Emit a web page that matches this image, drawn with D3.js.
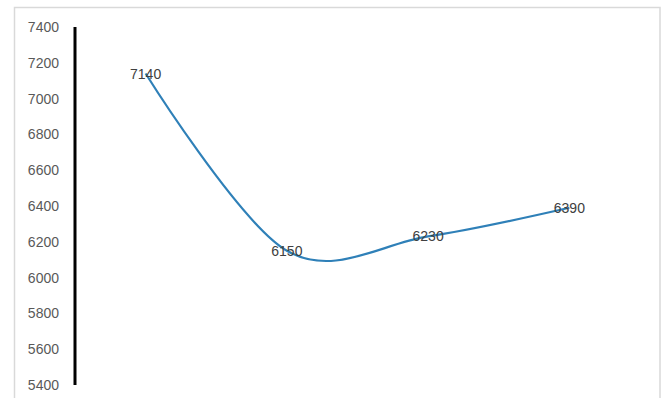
<!DOCTYPE html>
<html>
<head>
<meta charset="utf-8">
<script src="https://cdn.jsdelivr.net/npm/d3@7"></script>
<style>
  html, body { margin: 0; padding: 0; background: #ffffff; }
  svg { display: block; }
</style>
</head>
<body>
<script>
// Series: four points joined by a smoothed line, each labelled with its value
const categories = ["A", "B", "C", "D"];
const values = [7140, 6150, 6230, 6390];
const yTicks = [5400, 5600, 5800, 6000, 6200, 6400, 6600, 6800, 7000, 7200, 7400];

const W = 663, H = 398;
const svg = d3.select("body").append("svg").attr("width", W).attr("height", H);

// Chart frame
svg.append("rect")
  .attr("x", 14.5).attr("y", 7.5)
  .attr("width", 645.5).attr("height", 400)
  .attr("fill", "#ffffff")
  .attr("stroke", "#d9d9d9").attr("stroke-width", 1.5);

const x = d3.scalePoint().domain(categories).range([75, 640]).padding(0.5);
const y = d3.scaleLinear().domain([5400, 7400]).range([385, 27]);

// Value axis: tick labels only, with a heavy vertical rule
const yAxis = svg.append("g")
  .attr("transform", "translate(75,0)")
  .call(d3.axisLeft(y).tickValues(yTicks).tickSize(0).tickPadding(16).tickFormat(d3.format("d")));
yAxis.select(".domain").remove();
yAxis.selectAll("text")
  .attr("fill", "#595959")
  .style("font-family", "'Liberation Sans', Arial, sans-serif")
  .style("font-size", "14px");

svg.append("line")
  .attr("x1", 75).attr("x2", 75)
  .attr("y1", y(7400)).attr("y2", y(5400))
  .attr("stroke", "#000000").attr("stroke-width", 3);

// Smoothed series line
const line = d3.line()
  .x((d, i) => x(categories[i]))
  .y(d => y(d))
  .curve(d3.curveCardinal.tension(0));

svg.append("path")
  .datum(values)
  .attr("d", line)
  .attr("fill", "none")
  .attr("stroke", "#2f80b8")
  .attr("stroke-width", 2.2);

// Value labels centred on each point
svg.selectAll("text.val")
  .data(values)
  .enter().append("text")
  .attr("class", "val")
  .attr("x", (d, i) => x(categories[i]))
  .attr("y", d => y(d))
  .attr("dy", "0.36em")
  .attr("text-anchor", "middle")
  .attr("fill", "#404040")
  .style("font-family", "'Liberation Sans', Arial, sans-serif")
  .style("font-size", "14px")
  .text(d => d);
</script>
</body>
</html>
